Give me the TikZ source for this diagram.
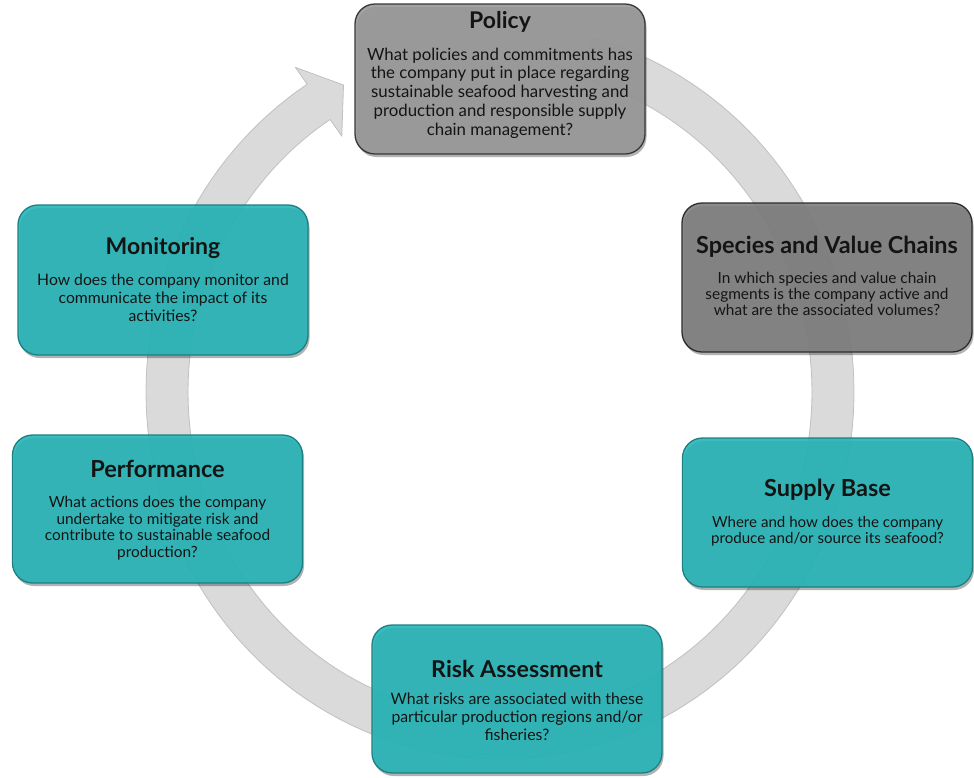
\documentclass[tikz,border=0pt]{standalone}
\usepackage{fontspec}
\setmainfont{Lato}
\usetikzlibrary{shadows}
\definecolor{tealfill}{RGB}{38,181,184}
\definecolor{tealline}{RGB}{28,128,130}
\definecolor{polfill}{RGB}{152,152,152}
\definecolor{polline}{RGB}{55,55,55}
\definecolor{specfill}{RGB}{126,126,126}
\definecolor{specline}{RGB}{45,45,45}
\definecolor{ringfill}{RGB}{218,218,218}
\definecolor{ringline}{RGB}{192,192,192}
\definecolor{txt}{RGB}{20,20,20}
\tikzset{
  cardbox/.style={rounded corners=20pt, line width=1.3pt,
    minimum width=290pt, minimum height=149pt, inner sep=0pt,
    fill opacity=0.9,
    drop shadow={shadow xshift=1.5pt, shadow yshift=-3pt, opacity=0.3, fill=black}},
  tealbox/.style={cardbox, fill=tealfill, draw=tealline},
  polbox/.style={cardbox, fill=polfill, draw=polline},
  specbox/.style={cardbox, fill=specfill, draw=specline},
  titletext/.style={text=txt, inner sep=0pt, font=\bfseries},
  bodytext/.style={text=txt, inner sep=0pt, align=center},
  ringstyle/.style={fill=ringfill, draw=ringline, line width=0.8pt, line join=round}
}
\newcommand{\fs}[2]{\fontsize{#1}{#2}\selectfont}
\begin{document}
\begin{tikzpicture}[x=1pt,y=-1pt]
\useasboundingbox (0,0) rectangle (974,777);
% ring with arrow
\path[ringstyle] plot[domain=-75:237,samples=160] ({500+354*cos(\x)},{392+367*sin(\x)})
  -- (295.4,67.4) -- (343.5,85) -- (341.8,136.2)
  -- plot[domain=237:-75,samples=160] ({500+312*cos(\x)},{392+325*sin(\x)}) -- cycle;
% boxes
\node[polbox, minimum height=150pt] (policy) at (500,79) {};
\node[titletext, font=\fs{23}{23}\bfseries] (policy-t) at (500,22) {Policy};
\node[bodytext, font=\fs{16.8}{18.8}] (policy-b) at (500,93) {What policies and commitments has\\ the company put in place regarding\\ sustainable seafood harvesting and\\ production and responsible supply\\ chain management?};

\node[specbox] (species) at (827,277.5) {};
\node[titletext, font=\fs{23.4}{23.4}\bfseries] (species-t) at (827,247) {Species and Value Chains};
\node[bodytext, font=\fs{15.4}{16.3}] (species-b) at (827,294) {In which species and value chain\\ segments is the company active and\\ what are the associated volumes?};

\node[tealbox] (supply) at (827.5,512.5) {};
\node[titletext, font=\fs{23.5}{23.5}\bfseries] (supply-t) at (827.5,490) {Supply Base};
\node[bodytext, font=\fs{15.1}{15.5}] (supply-b) at (827.5,531) {Where and how does the company\\ produce and/or source its seafood?};

\node[tealbox, minimum height=148pt] (risk) at (517,699) {};
\node[titletext, font=\fs{23.2}{23.2}\bfseries] (risk-t) at (517,669) {Risk Assessment};
\node[bodytext, font=\fs{15.8}{17.8}] (risk-b) at (517,717) {What risks are associated with these\\ particular production regions and/or\\ fisheries?};

\node[tealbox, minimum height=148pt] (perf) at (157.5,509) {};
\node[titletext, font=\fs{23.5}{23.5}\bfseries] (perf-t) at (157.5,469) {Performance};
\node[bodytext, font=\fs{15.4}{16.7}] (perf-b) at (157.5,528) {What actions does the company\\ undertake to mitigate risk and\\ contribute to sustainable seafood\\ production?};

\node[tealbox, minimum height=150pt] (monitor) at (163,280) {};
\node[titletext, font=\fs{23}{23}\bfseries] (monitor-t) at (163,248) {Monitoring};
\node[bodytext, font=\fs{15.75}{17.8}] (monitor-b) at (163,298) {How does the company monitor and\\ communicate the impact of its\\ activities?};
\end{tikzpicture}
\end{document}
